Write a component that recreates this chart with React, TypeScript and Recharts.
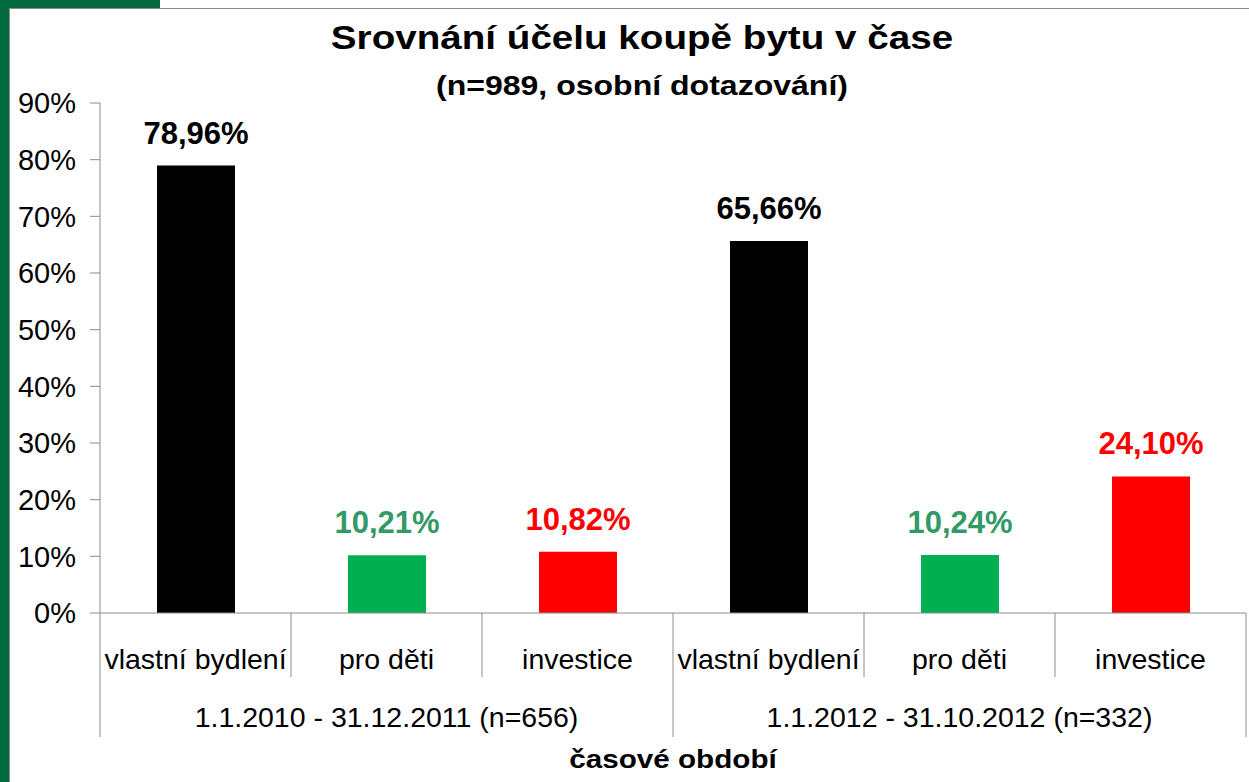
import { BarChart, Bar, XAxis, YAxis, Cell, LabelList } from "recharts";

const purposes = ["vlastní bydlení", "pro děti", "investice", "vlastní bydlení", "pro děti", "investice"];
const periods = ["1.1.2010 - 31.12.2011 (n=656)", "1.1.2012 - 31.10.2012 (n=332)"];
const shares = [78.96, 10.21, 10.82, 65.66, 10.24, 24.1];
const yTicks = [0, 10, 20, 30, 40, 50, 60, 70, 80, 90];

const FONT = '"Liberation Sans", Arial, sans-serif';
const BAR_FILL = ["#000000", "#00b050", "#ff0000"];
const LABEL_FILL = ["#000000", "#339966", "#ff0000"];
const AXIS_GRAY = "#8c8c8c";

const data = shares.map((v, i) => ({ idx: i, purpose: purposes[i], share: v }));

const fmt = (v: number) => v.toFixed(2).replace(".", ",") + "%";

function CategoryTick(props: any) {
  const { x, y, payload, index } = props;
  const half = payload?.offset || 95.5;
  const left = x - half;
  const groupStart = index % 3 === 0;
  const last = index === purposes.length - 1;
  return (
    <g>
      <line x1={left} y1={y} x2={left} y2={y + (groupStart ? 124 : 64)} stroke={AXIS_GRAY} strokeWidth={1} />
      {last && <line x1={x + half} y1={y} x2={x + half} y2={y + 124} stroke={AXIS_GRAY} strokeWidth={1} />}
      <text x={x} y={y + 56} textAnchor="middle" fontSize={28.5} fill="#000" fontFamily={FONT}>
        {purposes[index]}
      </text>
      {index % 3 === 1 && (
        <text x={x} y={y + 114} textAnchor="middle" fontSize={28.5} fill="#000" fontFamily={FONT}>
          {periods[Math.floor(index / 3)]}
        </text>
      )}
    </g>
  );
}

function ValueLabel(props: any) {
  const { x, y, width, value, index } = props;
  return (
    <text
      x={x + width / 2}
      y={y - 22}
      textAnchor="middle"
      fontSize={31}
      fontWeight="bold"
      fill={LABEL_FILL[index % 3]}
      fontFamily={FONT}
    >
      {fmt(value)}
    </text>
  );
}

export default function App() {
  return (
    <div style={{ position: "fixed", left: 0, top: 0, width: 1249, height: 782, background: "#fff", overflow: "hidden", fontFamily: FONT }}>
      {/* frame */}
      <div style={{ position: "absolute", left: 0, top: 0, width: 9, height: 782, background: "#006a3e" }} />
      <div style={{ position: "absolute", left: 0, top: 0, width: 160, height: 8, background: "#006a3e" }} />
      <div style={{ position: "absolute", left: 9, top: 8, width: 1240, height: 1, background: AXIS_GRAY }} />
      <div style={{ position: "absolute", left: 9, top: 8, width: 1, height: 774, background: AXIS_GRAY }} />

      <div style={{ position: "absolute", left: 0, top: 20, width: 1284, textAlign: "center", fontSize: 33, fontWeight: "bold", lineHeight: "36px", transform: "scaleX(1.17)", transformOrigin: "642px 0" }}>
        Srovnání účelu koupě bytu v čase
      </div>
      <div style={{ position: "absolute", left: 0, top: 71, width: 1284, textAlign: "center", fontSize: 28, fontWeight: "bold", lineHeight: "30px", transform: "scaleX(1.144)", transformOrigin: "642px 0" }}>
        (n=989, osobní dotazování)
      </div>

      <div style={{ position: "absolute", left: 0, top: 0 }}>
        <BarChart
          width={1249}
          height={782}
          data={data}
          margin={{ top: 103, right: 3, bottom: 0, left: 10 }}
          barCategoryGap="0%"
          style={{ fontFamily: FONT }}
        >
          <XAxis
            dataKey="idx"
            type="category"
            height={169}
            tickLine={false}
            tickSize={0}
            tickMargin={0}
            axisLine={{ stroke: AXIS_GRAY, strokeWidth: 1 }}
            tick={<CategoryTick />}
            interval={0}
          />
          <YAxis
            type="number"
            domain={[0, 90]}
            ticks={yTicks}
            width={90}
            interval={0}
            tickSize={10}
            tickMargin={14}
            tickLine={{ stroke: AXIS_GRAY }}
            axisLine={{ stroke: AXIS_GRAY, strokeWidth: 1 }}
            tickFormatter={(v: number) => `${v}%`}
            tick={{ fontSize: 29, fill: "#000", fontFamily: FONT }}
          />
          <Bar dataKey="share" barSize={78} isAnimationActive={false}>
            {data.map((d) => (
              <Cell key={d.idx} fill={BAR_FILL[d.idx % 3]} />
            ))}
            <LabelList dataKey="share" content={<ValueLabel />} />
          </Bar>
        </BarChart>
      </div>

      <div style={{ position: "absolute", left: 0, top: 744, width: 1346, textAlign: "center", fontSize: 26, fontWeight: "bold", lineHeight: "30px", transform: "scaleX(1.14)", transformOrigin: "673px 0" }}>
        časové období
      </div>
    </div>
  );
}
